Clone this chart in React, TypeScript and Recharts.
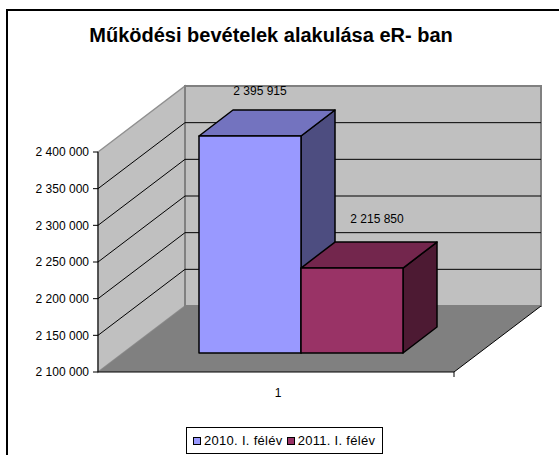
import { BarChart, Bar, XAxis, YAxis, Legend, ReferenceArea, ReferenceLine, LabelList } from 'recharts';

const categories = ['1'];
const seriesNames = ['2010. I. félév', '2011. I. félév'];
const values2010 = [2395915];
const values2011 = [2215850];
const yTicks = [2100000, 2150000, 2200000, 2250000, 2300000, 2350000, 2400000];
const gridTicks = [2150000, 2200000, 2250000, 2300000, 2350000];

const data = categories.map((name, i) => ({ name, s2010: values2010[i], s2011: values2011[i] }));

// perspective offsets (px)
const WALL_DX = 87;
const WALL_DY = 66;
const BAR_DX = 25;
const BAR_DY = 19;
const DEPTH_DX = 34;
const DEPTH_DY = 26;

const colors = [
  { front: '#9999FF', top: '#7373BF', side: '#4D4D80' },
  { front: '#993366', top: '#73264D', side: '#4D1A33' },
];

const fmt = (v: number) => String(Math.round(v)).replace(/\B(?=(\d{3})+(?!\d))/g, ' ');

const font = 'Arial, "Liberation Sans", sans-serif';

const Walls = (props: any) => {
  const { x, y, width, height } = props;
  const b = y + height;
  return (
    <g>
      <polygon
        points={`${x},${b} ${x},${y} ${x + WALL_DX},${y - WALL_DY} ${x + WALL_DX},${b - WALL_DY}`}
        fill="#C0C0C0"
        stroke="#909090"
        strokeWidth={1.5}
      />
      <rect x={x + WALL_DX} y={y - WALL_DY} width={width} height={height} fill="#C0C0C0" stroke="#808080" strokeWidth={2} />
      <polygon
        points={`${x},${b} ${x + WALL_DX},${b - WALL_DY} ${x + width + WALL_DX},${b - WALL_DY} ${x + width},${b}`}
        fill="#808080"
      />
      <line x1={x + width} y1={b} x2={x + width + WALL_DX} y2={b - WALL_DY} stroke="#000" />
      <line x1={x + width} y1={b} x2={x + width} y2={b + 5} stroke="#000" />
    </g>
  );
};

const GridLine = (props: any) => {
  const { x1, x2, y1 } = props;
  return (
    <g>
      <line x1={x1} y1={y1} x2={x1 + WALL_DX} y2={y1 - WALL_DY} stroke="#000" />
      <line x1={x1 + WALL_DX} y1={y1 - WALL_DY} x2={x2 + WALL_DX} y2={y1 - WALL_DY} stroke="#000" />
    </g>
  );
};

const makeBox = (c: { front: string; top: string; side: string }) => (props: any) => {
  const { x, y, width, height } = props;
  if (!height) return null;
  const fx = x + BAR_DX;
  const fy = y - BAR_DY;
  const r = fx + width;
  const b = fy + height;
  return (
    <g stroke="#000" strokeWidth={1.5} strokeLinejoin="round">
      <polygon points={`${r},${fy} ${r + DEPTH_DX},${fy - DEPTH_DY} ${r + DEPTH_DX},${b - DEPTH_DY} ${r},${b}`} fill={c.side} />
      <polygon points={`${fx},${fy} ${fx + DEPTH_DX},${fy - DEPTH_DY} ${r + DEPTH_DX},${fy - DEPTH_DY} ${r},${fy}`} fill={c.top} />
      <rect x={fx} y={fy} width={width} height={height} fill={c.front} />
    </g>
  );
};

const makeLabel = (dx: number, dy: number) => (props: any) => {
  const { x, y, width, value } = props;
  return (
    <text x={x + width / 2 + BAR_DX + dx} y={y - BAR_DY + dy} textAnchor="middle" fontSize={12} fontFamily={font} fill="#000">
      {fmt(value)}
    </text>
  );
};

const LegendBox = () => (
  <div
    style={{
      boxSizing: 'border-box',
      width: 197,
      height: 27,
      border: '1px solid #000',
      background: '#fff',
      display: 'flex',
      alignItems: 'center',
      paddingLeft: 6,
      fontFamily: font,
      fontSize: 13,
      letterSpacing: 0.3,
      color: '#000',
    }}
  >
    {seriesNames.map((n, i) => (
      <span key={n} style={{ display: 'flex', alignItems: 'center', marginRight: 4 }}>
        <span style={{ display: 'inline-block', width: 6, height: 6, background: colors[i].front, border: '1px solid #000', marginRight: 3 }} />
        {n}
      </span>
    ))}
  </div>
);

export default function App() {
  return (
    <div style={{ position: 'absolute', left: 0, top: 0, width: 559, height: 455, overflow: 'hidden', background: '#fff' }}>
      <div style={{ position: 'absolute', left: 6, top: 9, width: 600, height: 500, border: '2px solid #000' }} />
      <div
        style={{
          position: 'absolute',
          left: 2,
          top: 25,
          width: 538,
          textAlign: 'center',
          fontFamily: font,
          fontWeight: 'bold',
          fontSize: 20,
          lineHeight: '20px',
          color: '#000',
        }}
      >
        Működési bevételek alakulása eR- ban
      </div>
      <div style={{ position: 'absolute', left: 0, top: 0 }}>
        <BarChart width={559} height={455} data={data} margin={{ top: 152, right: 105, bottom: 53, left: 0 }} barGap={0} barSize={102}>
          <ReferenceArea y1={yTicks[0]} y2={yTicks[yTicks.length - 1]} shape={<Walls />} zIndex={-200} />
          {gridTicks.map((t) => (
            <ReferenceLine key={t} y={t} shape={<GridLine />} zIndex={-150} />
          ))}
          <XAxis
            dataKey="name"
            height={30}
            axisLine={{ stroke: '#000' }}
            tickLine={false}
            tickMargin={10}
            tick={{ fontSize: 12, fill: '#000', fontFamily: font, dx: 2 }}
          />
          <YAxis
            width={98}
            domain={[yTicks[0], yTicks[yTicks.length - 1]]}
            ticks={yTicks}
            tickFormatter={fmt}
            axisLine={{ stroke: '#000' }}
            tickLine={{ stroke: '#000' }}
            tickSize={5}
            tickMargin={4}
            tick={{ fontSize: 12, fill: '#000', fontFamily: font }}
          />
          <Bar dataKey="s2010" name={seriesNames[0]} fill={colors[0].front} shape={makeBox(colors[0])} isAnimationActive={false}>
            <LabelList dataKey="s2010" content={makeLabel(10, -41)} />
          </Bar>
          <Bar dataKey="s2011" name={seriesNames[1]} fill={colors[1].front} shape={makeBox(colors[1])} isAnimationActive={false}>
            <LabelList dataKey="s2011" content={makeLabel(25, -45)} />
          </Bar>
          <Legend
            layout="horizontal"
            verticalAlign="middle"
            align="center"
            content={<LegendBox />}
            wrapperStyle={{ position: 'absolute', left: 186, top: 427, width: 197, height: 27 }}
          />
        </BarChart>
      </div>
    </div>
  );
}
